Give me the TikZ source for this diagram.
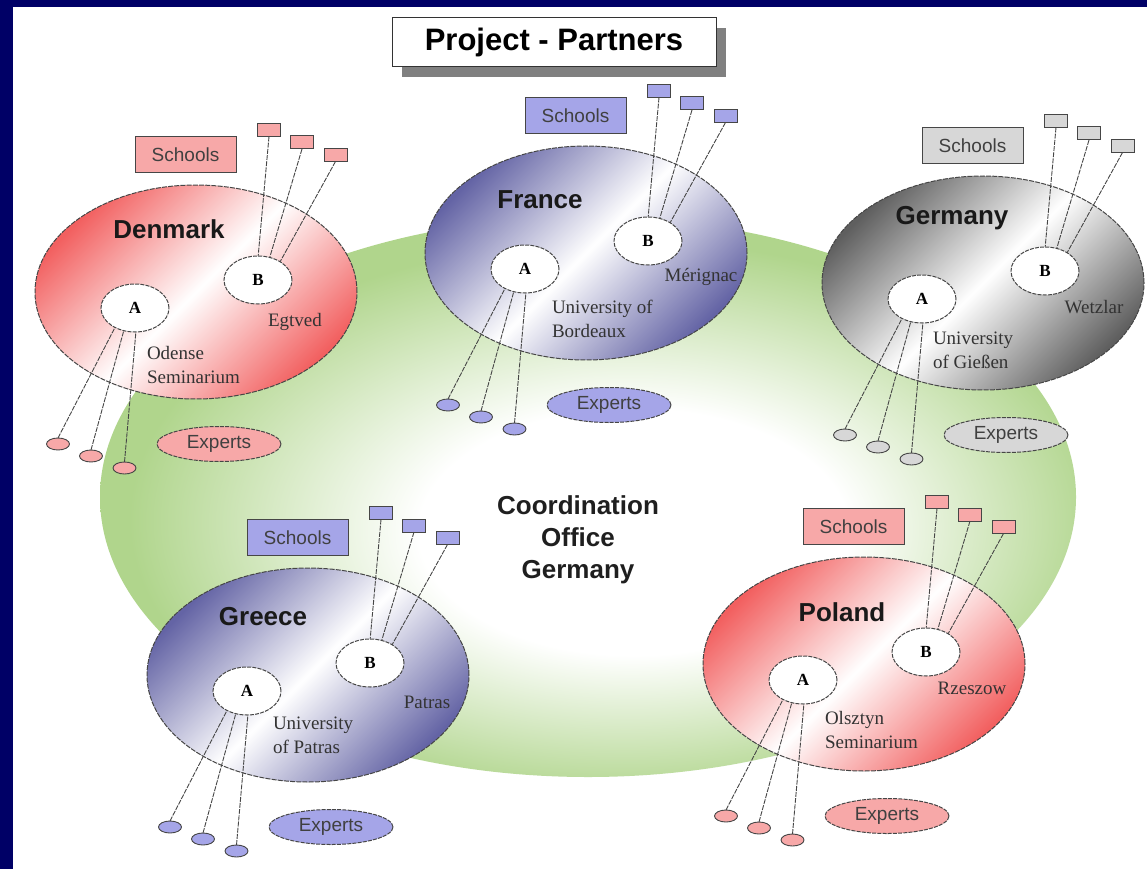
\documentclass[tikz,border=0pt]{standalone}
\usepackage{fontspec}
\setmainfont{Liberation Serif}
\setsansfont{Liberation Sans}
\usetikzlibrary{shapes.geometric,shadows}
\definecolor{navy}{RGB}{0,0,102}
\definecolor{grn}{RGB}{176,213,140}
\definecolor{redd}{RGB}{242,96,96}
\definecolor{bluu}{RGB}{100,100,165}
\definecolor{gryy}{RGB}{95,95,95}
\definecolor{redl}{RGB}{247,168,168}
\definecolor{blul}{RGB}{165,165,232}
\definecolor{gryl}{RGB}{215,215,215}
\definecolor{edge}{RGB}{70,70,70}
\pgfdeclareradialshading{greenglow}{\pgfpoint{3bp}{-4bp}}{color(0bp)=(white); color(11bp)=(white); color(25bp)=(grn); color(50bp)=(grn)}
\tikzset{
  every node/.style={inner sep=0pt, outer sep=0pt},
  country/.style={ellipse, minimum width=322pt, minimum height=214pt, draw=edge, line width=1pt, dash pattern=on 5pt off 1.2pt},
  site/.style={ellipse, draw=edge, fill=white, minimum width=68pt, minimum height=48pt, line width=1pt, dash pattern=on 4pt off 1.2pt, font=\bfseries\fontsize{17}{17}\selectfont},
  schoolbox/.style={rectangle, draw=edge, line width=1pt, minimum width=101pt, minimum height=36pt, font=\sffamily\fontsize{19}{19}\selectfont, text=black!75},
  tinybox/.style={rectangle, draw=edge, line width=1pt, minimum width=23pt, minimum height=13pt},
  expertsov/.style={ellipse, draw=edge, line width=1pt, dash pattern=on 4pt off 1.2pt, minimum width=124pt, minimum height=35pt, font=\sffamily\fontsize{19}{19}\selectfont, text=black!75},
  tinyov/.style={ellipse, draw=edge, line width=0.9pt, minimum width=23pt, minimum height=12pt},
  link/.style={draw=edge, line width=0.9pt, dash pattern=on 5pt off 1.2pt},
  cname/.style={font=\sffamily\bfseries\fontsize{26}{26}\selectfont, text=black!90},
  place/.style={font=\fontsize{19}{24}\selectfont, align=left, text=black!80},
}
\begin{document}
\begin{tikzpicture}[x=1pt,y=-1pt]
\useasboundingbox (0,0) rectangle (1147,869);
\fill[navy] (0,0) rectangle (1147,869);
\fill[white] (13,7) rectangle (1147,869);
% coordination area
\path[shading=greenglow] (588,497) ellipse [x radius=488, y radius=280];
\node[font=\sffamily\bfseries\fontsize{26}{32}\selectfont, align=center, text=black!88] (coord) at (578,540) {Coordination\\Office\\Germany};
% countries
\foreach \cc/\cx/\cy/\dkc/\ltc in {dk/196/292/redd/redl, fr/586/253/bluu/blul, de/983/283/gryy/gryl, gr/308/675/bluu/blul, pl/864/664/redd/redl}{
  \node[country, top color=\dkc, bottom color=\dkc, middle color=white, shading angle=45] (\cc) at (\cx,\cy) {};
  \node[schoolbox, fill=\ltc] (\cc-sch) at ({\cx-10.5},{\cy-137.5}) {Schools};
  \node[tinybox, fill=\ltc] (\cc-s1) at ({\cx+73},{\cy-162}) {};
  \node[tinybox, fill=\ltc] (\cc-s2) at ({\cx+106},{\cy-149.5}) {};
  \node[tinybox, fill=\ltc] (\cc-s3) at ({\cx+139.5},{\cy-137}) {};
  \node[expertsov, fill=\ltc] (\cc-exp) at ({\cx+23},{\cy+152}) {Experts};
  \node[tinyov, fill=\ltc] (\cc-e1) at ({\cx-138},{\cy+152}) {};
  \node[tinyov, fill=\ltc] (\cc-e2) at ({\cx-105},{\cy+164}) {};
  \node[tinyov, fill=\ltc] (\cc-e3) at ({\cx-71.5},{\cy+176}) {};
  \coordinate (\cc-Ac) at ({\cx-61},{\cy+16});
  \coordinate (\cc-Bc) at ({\cx+62},{\cy-12});
  \draw[link] (\cc-s1.south) -- ([xshift=-2pt]\cc-Bc);
  \draw[link] (\cc-s2.south) -- ([xshift=5pt]\cc-Bc);
  \draw[link] (\cc-s3.south) -- ([xshift=12pt]\cc-Bc);
  \draw[link] (\cc-e1.north) -- ([xshift=-10pt]\cc-Ac);
  \draw[link] (\cc-e2.north) -- ([xshift=-5pt]\cc-Ac);
  \draw[link] (\cc-e3.north) -- ([xshift=3pt]\cc-Ac);
  \node[site] (\cc-A) at (\cc-Ac) {A};
  \node[site] (\cc-B) at (\cc-Bc) {B};
}
% country names
\node[cname] (dkname) at (169,229) {Denmark};
\node[cname] (frname) at (540,200) {France};
\node[cname] (dename) at (952,218) {Germany};
\node[cname] (grname) at (263,617) {Greece};
\node[cname] (plname) at (842,612) {Poland};
% places
\node[place] (dkB) at (295,322) {Egtved};
\node[place, anchor=west] (dkA) at (147,365) {Odense\\Seminarium};
\node[place] (frB) at (701,277) {Mérignac};
\node[place, anchor=west] (frA) at (552,319) {University of\\Bordeaux};
\node[place] (deB) at (1094,307) {Wetzlar};
\node[place, anchor=west] (deA) at (933,350) {University\\of Gießen};
\node[place] (grB) at (427,702) {Patras};
\node[place, anchor=west] (grA) at (273,735) {University\\of Patras};
\node[place] (plB) at (972,688) {Rzeszow};
\node[place, anchor=west] (plA) at (825,730) {Olsztyn\\Seminarium};
% title
\node[draw=black!80, line width=1pt, fill=white, minimum width=324pt, minimum height=49pt,
  drop shadow={shadow xshift=10pt, shadow yshift=-10pt, fill=black!50, opacity=1},
  font=\sffamily\bfseries\fontsize{31}{31}\selectfont] (title) at (554,42.5) {Project - Partners};
\end{tikzpicture}
\end{document}
